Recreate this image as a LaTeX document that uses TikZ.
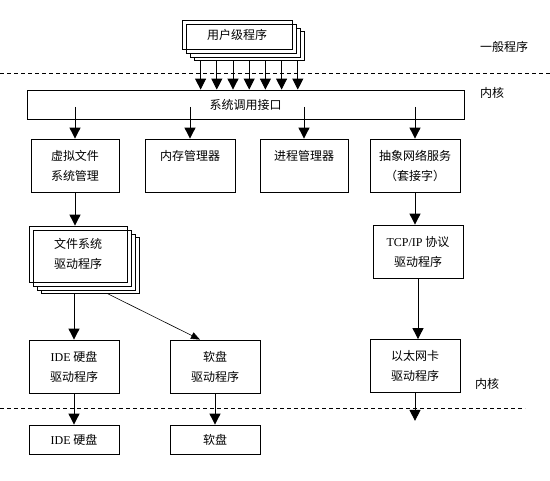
\documentclass[tikz,border=0pt]{standalone}
\usepackage{fontspec}
\setmainfont{Liberation Serif}
\newfontfamily\cjk{Noto Sans CJK SC}
\usetikzlibrary{arrows.meta,shadows}
\tikzset{
  box/.style={draw, line width=0.8pt, minimum width=90pt, minimum height=53pt, inner sep=0pt, align=center, font=\cjk\fontsize{12}{20}\selectfont},
  flat/.style={box, minimum height=29pt},
  stack/.style={box,
    general shadow={shadow xshift=12pt,shadow yshift=-11pt,fill=white,draw},
    general shadow={shadow xshift=8pt,shadow yshift=-8pt,fill=white,draw},
    general shadow={shadow xshift=4pt,shadow yshift=-4pt,fill=white,draw}},
  lbl/.style={font=\cjk\fontsize{12}{14}\selectfont, inner sep=0pt},
  arr/.style={line width=0.9pt, -{Triangle[width=11pt,length=11pt]}},
  thinarr/.style={line width=0.6pt, -{Triangle[width=7pt,length=9pt]}},
  sep/.style={line width=0.7pt, dash pattern=on 4pt off 3pt}
}
\begin{document}
\begin{tikzpicture}[x=1pt,y=-1pt]
    \useasboundingbox (0,0) rectangle (550,481);

    \node[stack, minimum width=110pt, minimum height=29pt] (user) at (237,34.5) {用户级程序};
    \node[flat, minimum width=437pt] (sys) at (245.5,104.5) {系统调用接口};

    \node[box, minimum width=88pt] (vfs) at (75,165.5) {虚拟文件\\系统管理};
    \node[box] (mem) at (190,165.5) {内存管理器\\\mbox{}};
    \node[box, minimum width=88pt] (proc) at (304,165.5) {进程管理器\\\mbox{}};
    \node[box] (net) at (415,165.5) {抽象网络服务\\（套接字）};

    \node[stack, minimum width=98pt, minimum height=56pt] (fsd) at (78,254) {文件系统\\驱动程序};
    \node[box] (tcp) at (418,251.5) {{\rmfamily TCP/IP} 协议\\驱动程序};

    \node[box] (ided) at (74,366.5) {{\rmfamily IDE} 硬盘\\驱动程序};
    \node[box] (flpd) at (215,366.5) {软盘\\驱动程序};
    \node[box] (eth) at (415,366) {以太网卡\\驱动程序};

    \node[flat] (ide) at (74,439.5) {{\rmfamily IDE} 硬盘};
    \node[flat] (flp) at (215,439.5) {软盘};
    \coordinate (ethend) at ([yshift=-28pt]eth.south);

    \node[lbl] (lgen) at (504,47) {一般程序};
    \node[lbl] (lkern) at (492,93) {内核};
    \node[lbl] (lkern2) at (487,384) {内核};

    \draw[sep] (0,73) -- (550,73);
    \draw[sep] (0,408) -- (525,408);

    \foreach \i in {0,...,6}{
        \pgfmathsetmacro\dx{19+16.2*\i}
        \draw[arr] ([xshift=\dx pt,yshift=-11pt]user.south west) -- ([xshift=\dx pt]user.south west |- sys.north);
    }
    \foreach \b in {vfs,mem,proc,net}
        \draw[arr] ([yshift=-2.5pt]sys.center -| \b.north) -- (\b.north);

    \draw[arr] (vfs.south) -- (vfs.south |- fsd.north);
    \draw[arr] (net.south) -- (net.south |- tcp.north);
    \draw[arr] ([yshift=-11pt]fsd.south -| ided.north) -- (ided.north);
    \draw[thinarr] ([shift={(29pt,-11pt)}]fsd.south) -- ([xshift=-15pt]flpd.north);
    \draw[arr] (tcp.south) -- (tcp.south |- eth.north);
    \draw[arr] (ided.south) -- (ide.north);
    \draw[arr] (flpd.south) -- (flp.north);
    \draw[arr] (eth.south) -- (ethend);
\end{tikzpicture}
\end{document}
